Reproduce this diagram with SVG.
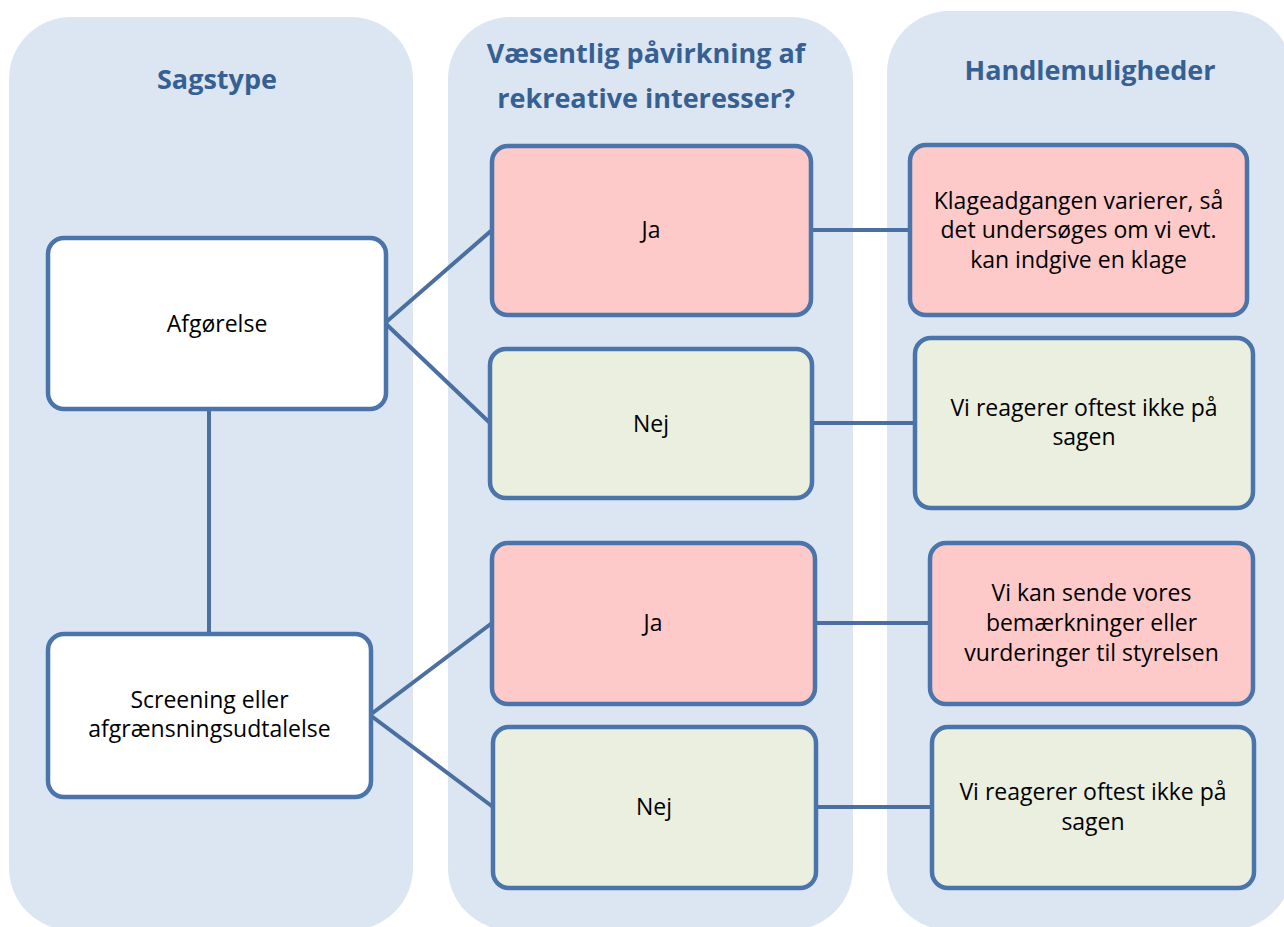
<svg xmlns="http://www.w3.org/2000/svg" width="1284" height="927" viewBox="0 0 1284 927">
<style>
.col{fill:#DCE6F2;}
.hdr{font-family:"Open Sans","Liberation Sans",sans-serif;font-weight:bold;font-size:27px;fill:#376092;text-anchor:middle;}
.box{stroke:#4A74AA;stroke-width:4.5;}
.w{fill:#FFFFFF;}
.r{fill:#FEC9C9;}
.g{fill:#EBEFDF;}
.t{font-family:"Open Sans","Liberation Sans",sans-serif;font-size:23px;fill:#000000;text-anchor:middle;}
.con{stroke:#4A6FA0;stroke-width:4;fill:none;}
</style>
<rect width="1284" height="927" fill="#FFFFFF"/>
<g id="columns">
<rect class="col" x="9" y="17" width="404" height="913" rx="62"/>
<rect class="col" x="448" y="17" width="405" height="913" rx="62"/>
<rect class="col" x="887" y="11" width="405" height="919" rx="62"/>
<text class="hdr" x="217" y="89">Sagstype</text>
<text class="hdr" x="646" y="63">Væsentlig påvirkning af</text>
<text class="hdr" x="646" y="108">rekreative interesser?</text>
<text class="hdr" x="1090" y="80">Handlemuligheder</text>
</g>
<g id="connectors">
<line class="con" x1="209" y1="409" x2="209" y2="634"/>
<polyline class="con" points="492,230 385,323 490,423"/>
<polyline class="con" points="492,623 370,715 493,807"/>
<line class="con" x1="811" y1="230" x2="910" y2="230"/>
<line class="con" x1="812" y1="423" x2="915" y2="423"/>
<line class="con" x1="815" y1="623" x2="930" y2="623"/>
<line class="con" x1="816" y1="807" x2="932" y2="807"/>
</g>
<g id="afgoerelse">
<rect class="box w" x="48" y="238" width="338" height="171" rx="16"/>
<text class="t" x="217" y="332">Afgørelse</text>
</g>
<g id="screening">
<rect class="box w" x="48" y="634" width="323" height="163" rx="16"/>
<text class="t" x="209.5" y="708">Screening eller</text>
<text class="t" x="209.5" y="737">afgrænsningsudtalelse</text>
</g>
<g id="ja1">
<rect class="box r" x="492" y="146" width="319" height="169" rx="16"/>
<text class="t" x="651" y="238">Ja</text>
</g>
<g id="nej1">
<rect class="box g" x="490" y="349" width="322" height="149" rx="16"/>
<text class="t" x="651" y="432">Nej</text>
</g>
<g id="ja2">
<rect class="box r" x="492" y="543" width="323" height="161" rx="16"/>
<text class="t" x="653" y="631">Ja</text>
</g>
<g id="nej2">
<rect class="box g" x="493" y="727" width="323" height="161" rx="16"/>
<text class="t" x="654" y="815">Nej</text>
</g>
<g id="klage">
<rect class="box r" x="910" y="145" width="337" height="170" rx="16"/>
<text class="t" x="1078.5" y="208.5">Klageadgangen varierer, så</text>
<text class="t" x="1078.5" y="238">det undersøges om vi evt.</text>
<text class="t" x="1078.5" y="267.5">kan indgive en klage</text>
</g>
<g id="reagerer1">
<rect class="box g" x="915" y="338" width="338" height="170" rx="16"/>
<text class="t" x="1084" y="416">Vi reagerer oftest ikke på</text>
<text class="t" x="1084" y="445">sagen</text>
</g>
<g id="sende">
<rect class="box r" x="930" y="543" width="323" height="161" rx="16"/>
<text class="t" x="1091.5" y="601">Vi kan sende vores</text>
<text class="t" x="1091.5" y="631">bemærkninger eller</text>
<text class="t" x="1091.5" y="660.5">vurderinger til styrelsen</text>
</g>
<g id="reagerer2">
<rect class="box g" x="932" y="727" width="322" height="161" rx="16"/>
<text class="t" x="1093" y="800">Vi reagerer oftest ikke på</text>
<text class="t" x="1093" y="830">sagen</text>
</g>
</svg>
